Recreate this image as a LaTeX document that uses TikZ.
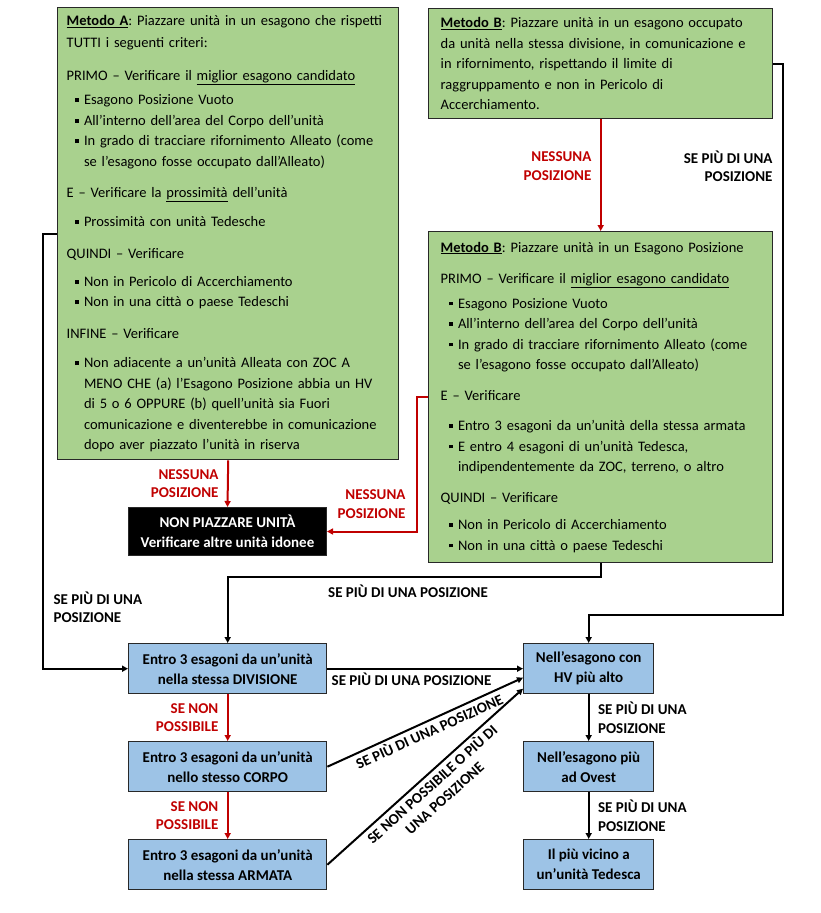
\documentclass[tikz,border=0pt]{standalone}
\usepackage{fontspec}
\setmainfont{Carlito}
\frenchspacing
\usetikzlibrary{positioning, arrows.meta}
\definecolor{boxgreen}{RGB}{169, 209, 142}
\definecolor{boxblue}{RGB}{157, 195, 230}
\definecolor{arrred}{RGB}{192, 0, 0}
\definecolor{edgegray}{RGB}{40, 40, 40}

\newcommand{\bul}{\hspace*{8pt}\rule[2.8pt]{3.8pt}{3.8pt}\hspace{5.5pt}}
\newcommand{\ind}{\hspace*{17.3pt}}

\begin{document}
\begin{tikzpicture}[x=1pt, y=-1pt,
    greenbox/.style={draw=edgegray, line width=1.4pt, fill=boxgreen, anchor=north west,
        align=left, inner xsep=9pt, inner ysep=0pt, font=\fontsize{14.5}{20.5}\selectfont},
    bluebox/.style={draw=edgegray, line width=1.4pt, fill=boxblue, anchor=north west,
        align=center, minimum height=50pt, font=\bfseries\fontsize{15}{20}\selectfont},
    redarr/.style={draw=arrred, line width=2pt, -{Triangle[length=6pt, width=6pt]}},
    blkarr/.style={draw=black, line width=2pt, -{Triangle[length=6pt, width=6pt]}},
    redlbl/.style={text=arrred, align=right, font=\bfseries\fontsize{15}{18.5}\selectfont},
    blklbl/.style={text=black, align=left, font=\bfseries\fontsize{15}{18.5}\selectfont}]
    \useasboundingbox (0,0) rectangle (820,913);

    % Green boxes
    \node[greenbox, text width=323pt, minimum height=452pt] (A) at (57,7) {%
        \underline{\textbf{Metodo A}}: Piazzare unità in un esagono che rispetti\\[2pt]
        TUTTI i seguenti criteri:\\[12pt]
        PRIMO – Verificare il \underline{miglior esagono candidato}\\[4pt]
        \bul Esagono Posizione Vuoto\\
        \bul All’interno dell’area del Corpo dell’unità\\
        \bul In grado di tracciare rifornimento Alleato (come\\
        \ind se l’esagono fosse occupato dall’Alleato)\\[11pt]
        E – Verificare la \underline{prossimità} dell’unità\\[8pt]
        \bul Prossimità con unità Tedesche\\[12pt]
        QUINDI – Verificare\\[7pt]
        \bul Non in Pericolo di Accerchiamento\\
        \bul Non in una città o paese Tedeschi\\[11pt]
        INFINE – Verificare\\[9pt]
        \bul Non adiacente a un’unità Alleata con ZOC A\\
        \ind MENO CHE (a) l’Esagono Posizione abbia un HV\\
        \ind di 5 o 6 OPPURE (b) quell’unità sia Fuori\\
        \ind comunicazione e diventerebbe in comunicazione\\
        \ind dopo aver piazzato l’unità in riserva};
    \node[greenbox, text width=320pt, inner xsep=12pt, minimum height=110pt] (B1) at (428,8) {%
        \underline{\textbf{Metodo B}}: Piazzare unità in un esagono occupato\\
        da unità nella stessa divisione, in comunicazione e\\
        in rifornimento, rispettando il limite di\\
        raggruppamento e non in Pericolo di\\
        Accerchiamento.};
    \node[greenbox, text width=320pt, inner xsep=12pt, minimum height=331pt] (B2) at (428,231) {%
        \underline{\textbf{Metodo B}}: Piazzare unità in un Esagono Posizione\\[11pt]
        PRIMO – Verificare il \underline{miglior esagono candidato}\\[4pt]
        \bul Esagono Posizione Vuoto\\
        \bul All’interno dell’area del Corpo dell’unità\\
        \bul In grado di tracciare rifornimento Alleato (come\\
        \ind se l’esagono fosse occupato dall’Alleato)\\[10pt]
        E – Verificare\\[10pt]
        \bul Entro 3 esagoni da un’unità della stessa armata\\
        \bul E entro 4 esagoni di un’unità Tedesca,\\
        \ind indipendentemente da ZOC, terreno, o altro\\[10pt]
        QUINDI – Verificare\\[7pt]
        \bul Non in Pericolo di Accerchiamento\\
        \bul Non in una città o paese Tedeschi};

    % Stop box
    \node[draw=edgegray, line width=1pt, fill=black, text=white, anchor=north west, align=center,
        minimum width=198pt, minimum height=48pt, font=\bfseries\fontsize{15}{20}\selectfont]
        (NP) at (128,507) {NON PIAZZARE UNITÀ\\Verificare altre unità idonee};

    % Blue boxes
    \foreach \y/\name/\txt in {643/DIV/{nella stessa DIVISIONE}, 741/COR/{nello stesso CORPO}, 839/ARM/{nella stessa ARMATA}} {
        \node[bluebox, minimum width=198pt] (\name) at (128,\y) {Entro 3 esagoni da un’unità\\\txt};
    }
    \foreach \y/\name/\txt in {643/HV/{Nell’esagono con\\HV più alto}, 741/OV/{Nell’esagono più\\ad Ovest}, 839/TED/{Il più vicino a\\un’unità Tedesca}} {
        \node[bluebox, minimum width=130pt] (\name) at (523,\y) {\txt};
    }

    % Connectors
    \draw[redarr] (A.south) -- node[redlbl, left=5pt] {NESSUNA\\POSIZIONE} (NP.north);
    \draw[redarr] (B1.south) -- node[redlbl, left=5pt, pos=0.42] {NESSUNA\\POSIZIONE} (B2.north);
    \draw[redarr] (B2.west) -- ++(-11,0) |- (NP.east);
    \node[redlbl, anchor=east] (nolbl) at (409,504) {NESSUNA\\POSIZIONE};
    \draw[blkarr] (B1.east) -| (783,615) -| (HV.north);
    \node[blklbl, align=right, anchor=east] (b1lbl) at (776,166) {SE PIÙ DI UNA\\POSIZIONE};
    \draw[blkarr] (B2.south) -- ++(0,14) -| (DIV.north);
    \node[blklbl] (b2lbl) at (408,591) {SE PIÙ DI UNA POSIZIONE};
    \draw[blkarr] (A.west) -- ++(-14,0) |- (DIV.west);
    \node[blklbl, anchor=west] (albl) at (50,607) {SE PIÙ DI UNA\\POSIZIONE};
    \draw[blkarr] (DIV.east) -- node[blklbl, below, pos=0.43] {SE PIÙ DI UNA POSIZIONE} (HV.west);
    \draw[blkarr] (COR.east) -- node[blklbl, sloped, below, inner sep=2pt] {SE PIÙ DI UNA POSIZIONE} ([yshift=-9pt]HV.west);
    \draw[blkarr] (ARM.east) -- node[blklbl, align=center, sloped, below, inner sep=2pt] {SE NON POSSIBILE O PIÙ DI\\UNA POSIZIONE} ([yshift=-20pt]HV.west);
    \draw[redarr] (DIV.south) -- node[redlbl, left=5pt] {SE NON\\POSSIBILE} (COR.north);
    \draw[redarr] (COR.south) -- node[redlbl, left=5pt] {SE NON\\POSSIBILE} (ARM.north);
    \draw[blkarr] (HV.south) -- node[blklbl, right=5pt] {SE PIÙ DI UNA\\POSIZIONE} (OV.north);
    \draw[blkarr] (OV.south) -- node[blklbl, right=5pt] {SE PIÙ DI UNA\\POSIZIONE} (TED.north);
\end{tikzpicture}
\end{document}
